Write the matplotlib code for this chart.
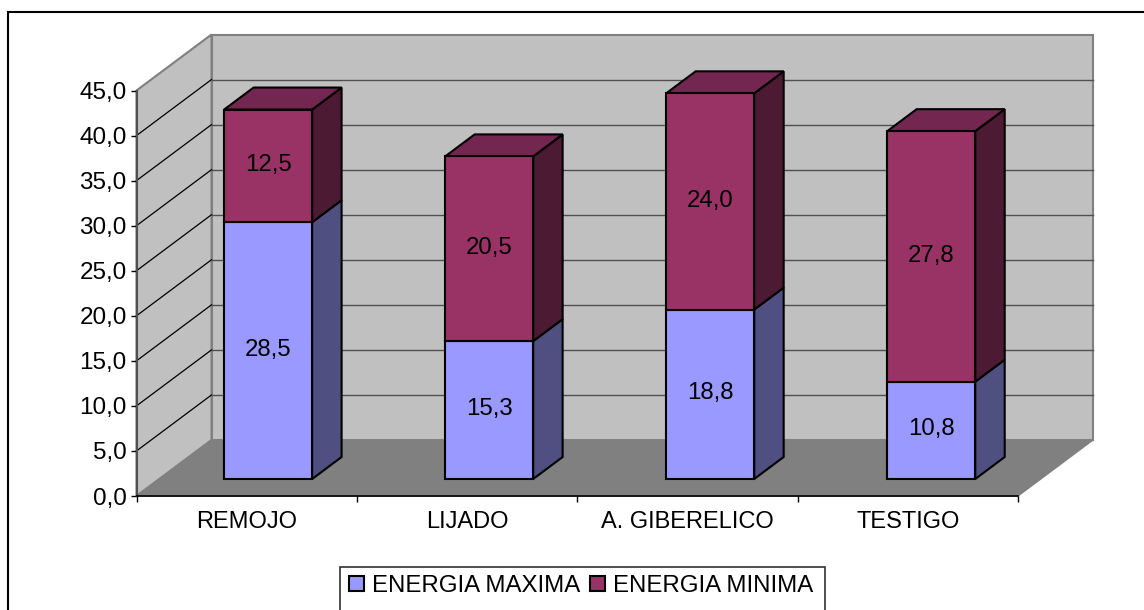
import matplotlib
matplotlib.use('Agg')
import matplotlib.pyplot as plt
from matplotlib.patches import Polygon, Rectangle

plt.rcParams['font.family'] = ['Liberation Sans', 'DejaVu Sans']

categories = ['REMOJO', 'LIJADO', 'A. GIBERELICO', 'TESTIGO']
energia_maxima = [28.5, 15.3, 18.8, 10.8]
energia_minima = [12.5, 20.5, 24.0, 27.8]
series_names = ['ENERGIA MAXIMA', 'ENERGIA MINIMA']
y_ticks = [0, 5, 10, 15, 20, 25, 30, 35, 40, 45]

W, H = 1144, 610
fig = plt.figure(figsize=(W / 100, H / 100), dpi=100)

# front plane of the plot box, in pixels
left, right, top, bottom = 136.5, 1018, 90.5, 496
ax = fig.add_axes([left / W, 1 - bottom / H, (right - left) / W, (bottom - top) / H])
ax.set_xlim(0, 4)
ax.set_ylim(0, 45)
ax.patch.set_visible(False)

# frame round the chart, right and bottom sides fall off the picture
fig.add_artist(Rectangle((8 / W, -0.05), 1.2, 1 - 12 / H + 0.05, transform=fig.transFigure,
                         fill=False, ec='black', lw=1.5))

px_x = (right - left) / 4
px_y = (bottom - top) / 45
DEPTH_X, DEPTH_Y = 75, 56


def pt(x, y, d=0.0):
    # d is depth in pixels up the floor (0 front, DEPTH_Y back wall)
    return (x + d * DEPTH_X / DEPTH_Y / px_x, y + d / px_y)


def poly(points, **kw):
    p = Polygon(points, closed=True, clip_on=False, **kw)
    ax.add_patch(p)
    return p


# walls and floor
poly([pt(0, 0, 56), pt(4, 0, 56), pt(4, 45, 56), pt(0, 45, 56)], fc='#C0C0C0', ec='#808080', lw=1.5, zorder=1)
poly([pt(0, 0), pt(0, 0, 56), pt(0, 45, 56), pt(0, 45)], fc='#C0C0C0', ec='#808080', lw=1.5, zorder=1)
poly([pt(0, 0), pt(4, 0), pt(4, 0, 56), pt(0, 0, 56)], fc='#808080', ec='#808080', lw=1, zorder=1)

# gridlines on the side wall and back wall
for v in y_ticks[1:-1]:
    a, b, c = pt(0, v), pt(0, v, 56), pt(4, v, 56)
    ax.plot([a[0], b[0]], [a[1], b[1]], color='black', lw=0.9, zorder=2, clip_on=False)
    ax.plot([b[0], c[0]], [b[1], c[1]], color='#505050', lw=1, zorder=2, clip_on=False)

# bars
BAR_D = 17
BAR_DEPTH = 22
bar_w = 88 / px_x
edge = dict(ec='black', lw=1.5)
styles = [('#9999FF', '#4F4F82', '#6E6EB8'), ('#993366', '#4D1A33', '#732650')]

for i, cat in enumerate(categories):
    xc = 0.494 + i * 1.003
    base = 0
    for j, vals in enumerate([energia_maxima, energia_minima]):
        v = vals[i]
        front, side, lid = styles[j]
        x0 = xc - bar_w / 2
        x1 = xc + bar_w / 2
        d = BAR_D
        d2 = BAR_D + BAR_DEPTH
        poly([pt(x1, base, d), pt(x1, base, d2), pt(x1, base + v, d2), pt(x1, base + v, d)],
             fc=side, zorder=3 + i, **edge)
        if j == 1:
            poly([pt(x0, base + v, d), pt(x1, base + v, d), pt(x1, base + v, d2), pt(x0, base + v, d2)],
                 fc=lid, zorder=3 + i, **edge)
        fx, fy = pt(xc, base, d)
        ax.bar(fx, v, bottom=fy, width=bar_w, color=front, zorder=3.5 + i, clip_on=False, **edge)
        tx, ty = pt(xc, base + v / 2, d)
        ax.text(tx, ty + 0.1, f'{v:.1f}'.replace('.', ','), ha='center', va='center',
                fontsize=17.3, color='black', zorder=10)
        base += v

# axes
for s in ['top', 'right']:
    ax.spines[s].set_visible(False)
ax.spines['left'].set_color('#505050')
ax.spines['left'].set_linewidth(1.5)
ax.spines['bottom'].set_linewidth(1.2)
ax.spines['left'].set_zorder(2.5)
ax.spines['bottom'].set_zorder(2.5)
ax.set_yticks(y_ticks)
ax.set_yticklabels([f'{v:.1f}'.replace('.', ',') for v in y_ticks], fontsize=17.5)
ax.tick_params(axis='y', length=4, width=1, pad=3)
ax.set_xticks([0, 1, 2, 3, 4])
ax.set_xticklabels([])
ax.tick_params(axis='x', length=4, width=1)
ax.set_xticks([0.5, 1.5, 2.5, 3.5], minor=True)
ax.set_xticklabels(categories, minor=True, fontsize=17)
ax.tick_params(axis='x', which='minor', length=0, pad=11)

# legend, its box runs off the bottom of the picture like the frame
fig.add_artist(Rectangle((340 / W, -0.05), 485 / W, 1 - 567 / H + 0.05, transform=fig.transFigure,
                         fc='white', ec='#303030', lw=1.2))
handles = [Rectangle((0, 0), 1, 1, fc=styles[k][0], ec='black', lw=1.5) for k in range(2)]
leg = fig.legend(handles, series_names, loc='center', bbox_to_anchor=(581 / W, 1 - 586 / H),
                 ncol=2, fontsize=17.3, frameon=False,
                 handlelength=0.62, handleheight=0.62, handletextpad=0.33, columnspacing=0.4,
                 borderpad=0.35, borderaxespad=0)
leg.set_zorder(5)

fig.savefig('out.png', dpi=100)
